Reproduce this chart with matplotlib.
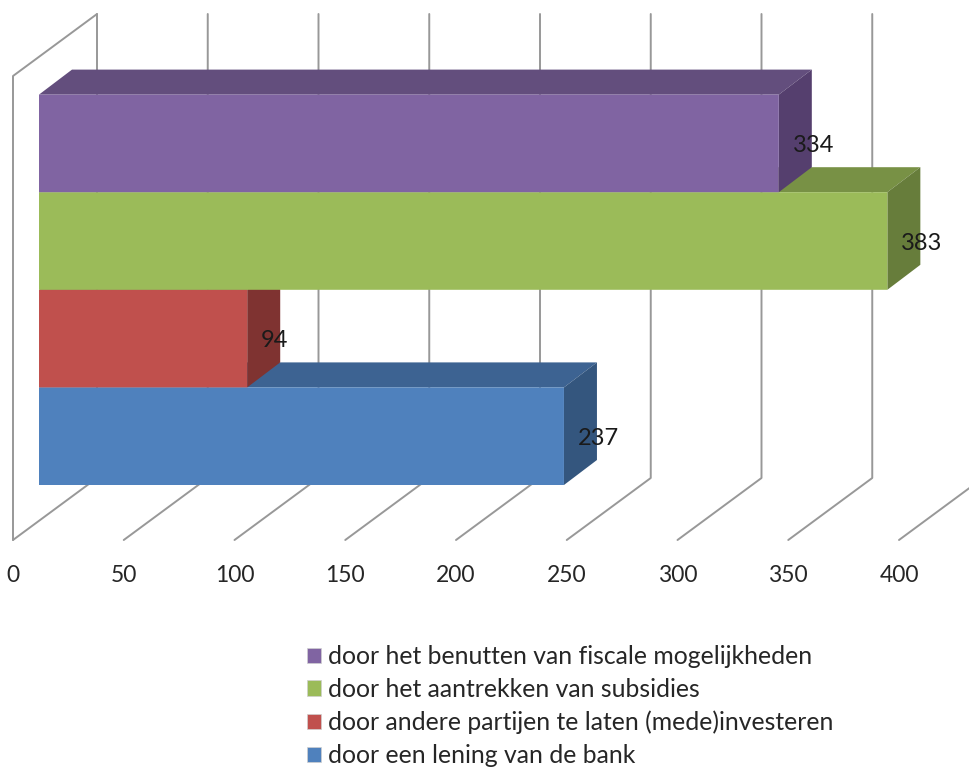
import matplotlib
matplotlib.use("Agg")
import matplotlib.pyplot as plt
from matplotlib.patches import Patch, Polygon

plt.rcParams['font.family'] = ['Lato', 'DejaVu Sans']

# bottom bar first, the later ones hide the hidden part of its top face
labels = ["door een lening van de bank",
          "door andere partijen te laten (mede)investeren",
          "door het aantrekken van subsidies",
          "door het benutten van fiscale mogelijkheden"]
values = [237, 94, 383, 334]
front_colors = ["#4F81BD", "#C0504D", "#9BBB59", "#8064A2"]
top_colors = ["#3D6392", "#943E3B", "#789145", "#634E7D"]
side_colors = ["#34567E", "#7F3331", "#677D3B", "#553F6E"]
ticks = [0, 50, 100, 150, 200, 250, 300, 350, 400]

WIDTH, HEIGHT = 970, 769
PX_PER_VALUE = 2.215
PX_PER_BAND = 97.6
LEFT_PX = 13
ZERO_BAND_PX = 436.2


def px_w(px):
    return px / PX_PER_VALUE


def px_h(px):
    return px / PX_PER_BAND


def band_y(y_px):
    return (ZERO_BAND_PX - y_px) / PX_PER_BAND


fig = plt.figure(figsize=(WIDTH / 100, HEIGHT / 100), dpi=100)
ax = fig.add_axes([0, 0, 1, 1])
ax.set_xlim(-px_w(LEFT_PX), px_w(WIDTH - LEFT_PX))
ax.set_ylim(band_y(HEIGHT), band_y(0))
ax.axis("off")

# walls and floor of the 3d box
wall_dx, wall_dy = px_w(84), px_h(62)
floor = band_y(540)
ceiling = band_y(76)
grid = dict(color="#989898", lw=1.4, solid_capstyle="round", zorder=1)
ax.plot([0, 0, wall_dx], [floor, ceiling, ceiling + wall_dy], **grid)
for t in ticks:
    ax.plot([t, t + wall_dx, t + wall_dx],
            [floor, floor + wall_dy, ceiling + wall_dy], **grid)
    ax.text(t, band_y(575), str(t), ha="center", va="center",
            fontsize=16.5, color="#262626")

# bars with their top and side faces
inset = px_w(26)
bar_dx, bar_dy = px_w(33), px_h(25)
for i, v in enumerate(values):
    right = inset + v
    top = i + 0.5
    bottom = i - 0.5
    ax.add_patch(Polygon([(inset, top), (inset + bar_dx, top + bar_dy),
                          (right + bar_dx, top + bar_dy), (right, top)],
                         fc=top_colors[i], ec="none", zorder=2 + i))
    ax.add_patch(Polygon([(right, top), (right + bar_dx, top + bar_dy),
                          (right + bar_dx, bottom + bar_dy), (right, bottom)],
                         fc=side_colors[i], ec="none", zorder=2 + i))
    ax.barh(i, v, height=1.0, left=inset, color=front_colors[i],
            zorder=2 + i, snap=False)
    ax.text(right + px_w(14), i - px_h(2), str(v), ha="left", va="center",
            fontsize=17, color="#1a1a1a", zorder=10)

handles = [Patch(fc=c, ec="#d0d0d0", lw=0.5) for c in front_colors[::-1]]
ax.legend(handles, labels[::-1], loc="upper left",
          bbox_to_anchor=(302 / WIDTH, 1 - 640 / HEIGHT),
          frameon=False, fontsize=17.8, handlelength=0.57, handleheight=0.57,
          handletextpad=0.28, labelspacing=0.4, labelcolor="#262626",
          borderpad=0.2, borderaxespad=0)

fig.savefig("out.png", dpi=100)
